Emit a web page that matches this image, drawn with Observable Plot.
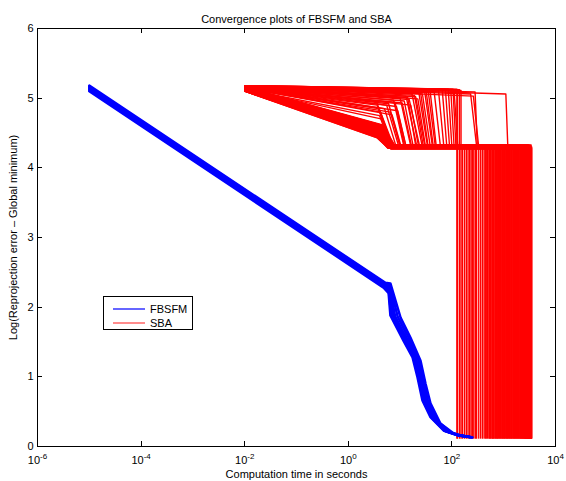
<!DOCTYPE html>
<html><head><meta charset="utf-8">
<script src="https://cdn.jsdelivr.net/npm/d3@7"></script>
<script src="https://cdn.jsdelivr.net/npm/@observablehq/plot@0.6"></script>
<style>body{margin:0;background:#fff}</style>
</head><body><div id="chart"></div><script>
// ---- data ----
const title = "Convergence plots of FBSFM and SBA";
const xLabel = "Computation time in seconds";
const yLabel = "Log(Reprojection error \u2013 Global minimum)";
const xTicks = [1e-6, 1e-4, 1e-2, 1, 1e2, 1e4];
const yTicks = [0, 1, 2, 3, 4, 5, 6];
const seriesNames = ["FBSFM", "SBA"];

// FBSFM: a bundle of runs (time s, value)
const fbsfmA = [[1e-5,5.18],[5.2,2.35],[6.5,2.34],[10.2,1.85],[15.9,1.56],[24.8,1.23],[31,0.90],[38.6,0.62],[60,0.33],[107,0.19],[160,0.15],[250,0.13]];
const fbsfmAB = [[1e-5,5.168],[5.15,2.34],[6.4,2.315],[9,1.86],[14.7,1.555],[22.6,1.245],[28.5,0.925],[35,0.63],[54,0.355],[96,0.20],[150,0.155],[240,0.13]];
const fbsfmB = [[1e-5,5.155],[5.1,2.33],[6.3,2.29],[8,1.87],[13.5,1.55],[20.5,1.26],[26,0.95],[32,0.64],[48,0.38],[85,0.21],[140,0.16],[230,0.135]];
const fbsfmBC = [[1e-5,5.142],[5.05,2.315],[6.2,2.27],[7.5,1.875],[13,1.54],[19.7,1.265],[25,0.96],[30.7,0.645],[45.5,0.39],[80,0.215],[137,0.16],[222,0.135]];
const fbsfmC = [[1e-5,5.13],[5.0,2.30],[6.1,2.25],[7,1.88],[12.5,1.53],[19,1.27],[24,0.97],[29.5,0.65],[43,0.40],[76,0.22],[134,0.16],[215,0.14]];
const fbsfmCD = [[1e-5,5.115],[4.9,2.29],[6.05,2.225],[6.75,1.88],[12,1.525],[18.2,1.275],[22.8,0.98],[28.2,0.655],[40.8,0.41],[72,0.225],[131,0.16],[207,0.14]];
const fbsfmD = [[1e-5,5.10],[4.8,2.28],[6.0,2.2],[6.5,1.88],[11.6,1.52],[17.4,1.28],[21.7,0.99],[27,0.66],[38.6,0.42],[69,0.23],[128,0.16],[200,0.14]];

// SBA: runs start at 0.01 s, bend at a knee, reach the ~4.3 plateau, then drop
const sbaStartT = 0.01;
const sbaFinalV = 0.12;
const sbaStartV = [5.10,5.11,5.12,5.13,5.14,5.10,5.12,5.15,5.11,5.13,5.14,5.16,5.12,5.10,5.13,5.15,5.11,5.14,5.12,5.16,5.13,5.11,5.15,5.12,5.14,5.10,
  5.15,5.14,5.13,5.13,5.15,5.14,5.16,5.15,5.16,5.15,5.16,5.16,5.17,5.16,5.17,5.16,5.17,5.17,
  5.17,5.17,5.18,5.17,5.18,5.17,5.18,5.17,5.17,5.16,5.17,5.18,5.18,5.17,5.17,5.16,
  5.11,5.13,5.12,5.14,5.10,5.15,5.12,5.13,5.11,5.14,5.12,5.16,5.13,5.11,5.15,5.12,5.14,5.10,5.13,5.15,5.11,5.12,5.14,5.13,5.16,
  5.14,5.15,5.16,5.14,5.15,5.16,5.15,5.16,5.17,5.16,5.17,5.16,5.17,5.17,5.16];
const sbaKneeT = [3.6,3.7,3.8,3.7,3.9,4.0,4.1,3.6,4.2,4.3,3.8,4.0,4.4,3.9,4.5,3.7,4.1,4.2,3.6,4.6,3.8,4.0,4.3,3.9,4.4,3.7,
  3.5,3.8,4.0,4.5,5.5,6.5,7.5,8.5,10,11,13,15,17,20,23,27,32,38,
  45,55,65,75,85,95,105,110,230,260,280,1100,125,128,140,150,
  3.7,3.9,4.1,3.6,4.3,3.8,4.0,4.5,3.7,4.2,3.9,4.4,3.6,4.0,4.1,3.8,4.3,3.7,4.6,3.9,4.2,3.6,4.0,4.4,3.8,
  3.6,4.2,5.0,6.0,7.0,8.0,9.0,12,14,16,19,22,25,30,35];
const sbaKneeV = [4.43,4.45,4.47,4.50,4.52,4.44,4.55,4.58,4.48,4.60,4.53,4.62,4.50,4.46,4.57,4.49,4.51,4.56,4.44,4.61,4.48,4.54,4.59,4.47,4.55,4.45,
  4.95,4.85,4.75,4.70,4.90,4.80,4.97,4.88,5.00,4.93,5.03,4.98,5.06,5.02,5.08,5.06,5.09,5.10,
  5.12,5.12,5.13,5.12,5.13,5.12,5.13,5.12,5.06,5.03,5.09,5.06,5.13,5.12,5.12,5.11,
  4.46,4.50,4.53,4.48,4.57,4.52,4.45,4.60,4.44,4.55,4.49,4.62,4.47,4.51,4.58,4.46,4.54,4.43,4.61,4.50,4.56,4.45,4.52,4.59,4.48,
  4.90,4.80,4.85,4.92,4.76,4.94,4.82,4.96,5.01,4.90,5.04,4.99,5.07,5.08,5.09];
const sbaPlateauT = [5.6,5.8,6.0,6.2,6.3,6.0,6.5,6.4,6.6,7.0,6.1,7.2,6.8,5.9,7.5,6.0,6.4,6.9,5.7,8.0,6.2,6.6,7.3,6.1,7.0,5.8,
  7.5,7.0,6.8,7.2,9.5,10,12,13,16,17,21,24,27,30,34,38,44,50,
  60,70,80,90,100,110,120,130,300,330,310,1200,125,128,140,150,
  5.9,6.2,6.6,5.8,7.0,6.3,6.0,7.6,5.7,6.8,6.1,7.4,5.9,6.4,7.1,6.0,6.9,5.7,7.8,6.2,6.7,5.8,6.3,7.2,6.1,
  7.2,7.0,8.5,10,10.5,12.5,13,18,20,23,28,31,35,42,48];
const sbaPlateauV = [4.30,4.29,4.31,4.28,4.32,4.30,4.29,4.33,4.27,4.31,4.30,4.32,4.28,4.29,4.30,4.31,4.33,4.29,4.30,4.32,4.28,4.31,4.30,4.29,4.32,4.30,
  4.31,4.30,4.29,4.32,4.30,4.31,4.29,4.30,4.32,4.28,4.31,4.30,4.29,4.31,4.30,4.32,4.29,4.30,
  4.31,4.30,4.29,4.31,4.30,4.32,4.29,4.30,4.31,4.29,4.30,4.31,4.30,4.30,4.30,4.30,
  4.29,4.31,4.30,4.32,4.28,4.30,4.33,4.29,4.31,4.27,4.30,4.32,4.29,4.31,4.30,4.28,4.33,4.30,4.29,4.31,4.32,4.28,4.30,4.31,4.29,
  4.30,4.31,4.29,4.32,4.30,4.28,4.31,4.30,4.32,4.29,4.31,4.30,4.29,4.31,4.30];
const sbaDropT = [3480,160,2500,330,3300,700,2900,1180,3140,450,2740,1880,3440,235,2300,980,3380,1590,3060,610,2100,3220,800,2660,1410,2820,
  175,2980,1040,250,1780,390,2200,530,1500,205,860,2400,300,1250,650,1680,420,920,
  190,1110,265,570,220,750,285,490,360,1330,1990,2580,125,128,140,150,
  3420,460,2450,730,3340,1070,2940,520,3260,1540,2700,890,3180,600,2250,1290,3100,830,2550,1830,3020,680,2860,1940,2780,
  560,640,770,950,1010,1140,1210,1370,1450,1630,1730,2050,2150,2350,2620];

// ---- build tables ----
const blueRows = [];
[fbsfmA, fbsfmAB, fbsfmB, fbsfmBC, fbsfmC, fbsfmCD, fbsfmD].forEach((run, i) => run.forEach(([t, v]) => blueRows.push({id: i, t, v})));
const redRows = [];
sbaKneeT.forEach((_, i) => {
  [[sbaStartT, sbaStartV[i]], [sbaKneeT[i], sbaKneeV[i]], [sbaPlateauT[i], sbaPlateauV[i]],
   [sbaDropT[i], sbaPlateauV[i]], [sbaDropT[i], sbaFinalV]].forEach(([t, v]) => redRows.push({id: i, t, v}));
});

const FONT = "'Liberation Sans', Arial, Helvetica, sans-serif";
const plot = Plot.plot({
  width: 566, height: 481,
  marginLeft: 37, marginRight: 11, marginTop: 28, marginBottom: 35,
  style: {fontFamily: FONT, fontSize: "11px", background: "white", color: "black"},
  x: {type: "log", domain: [1e-6, 1e4]},
  y: {domain: [0, 6]},
  marks: [
    Plot.line(redRows, {x: "t", y: "v", z: "id", stroke: "#ff0000", strokeWidth: 1.4}),
    Plot.line(blueRows, {x: "t", y: "v", z: "id", stroke: "#0000ff", strokeWidth: 2.5}),
    Plot.frame({stroke: "black", strokeWidth: 1}),
    Plot.axisX({ticks: xTicks, tickSize: 0, tickPadding: 10, tickFormat: d => "10^" + Math.round(Math.log10(d)),
      label: xLabel, labelAnchor: "center", labelArrow: "none", labelOffset: 31, fontSize: 11}),
    Plot.axisY({ticks: yTicks, tickSize: 0, tickPadding: 4, tickFormat: d => String(d),
      label: yLabel, labelAnchor: "center", labelArrow: "none", labelOffset: 28, fontSize: 11}),
    Plot.text([title], {frameAnchor: "top", dy: -13, fontSize: 11, fill: "black"})
  ]
});

const svg = d3.select(plot);
// strip any label arrows
svg.selectAll('g[aria-label$="label"] text').each(function() {
  const t = this.textContent;
  if (/[\u2191\u2192\u2190\u2193]/.test(t)) this.textContent = t.replace(/\s*[\u2191\u2192\u2190\u2193]\s*/g, "");
});
const xs = plot.scale("x"), ys = plot.scale("y");
const [x0, x1] = xs.range, [yB, yT] = ys.range;
const tk = 5;
const tg = svg.append("g").style("stroke", "black").style("stroke-width", 1);
xTicks.forEach(v => {
  const px = Math.round(xs.apply(v)) + 0.5;
  tg.append("line").attr("x1", px).attr("x2", px).attr("y1", yB).attr("y2", yB - tk);
  tg.append("line").attr("x1", px).attr("x2", px).attr("y1", yT).attr("y2", yT + tk);
});
yTicks.forEach(v => {
  const py = Math.round(ys.apply(v)) + 0.5;
  tg.append("line").attr("y1", py).attr("y2", py).attr("x1", x0).attr("x2", x0 + tk);
  tg.append("line").attr("y1", py).attr("y2", py).attr("x1", x1).attr("x2", x1 - tk);
});

// superscript exponents on x tick labels
svg.selectAll('g[aria-label="x-axis tick label"] text').each(function() {
  const s = this.textContent.split("^");
  if (s.length !== 2) return;
  const el = d3.select(this);
  el.text(s[0]);
  el.append("tspan").attr("dy", -5).attr("font-size", 8).text(s[1]);
});

// legend
const legendColors = ["#0000ff", "#ff4040"];
const lg = svg.append("g").style("font-family", FONT).style("font-size", "11px").style("text-anchor", "start");
lg.append("rect").attr("x", 103.5).attr("y", 296.5).attr("width", 89).attr("height", 33)
  .style("fill", "white").style("stroke", "black").style("stroke-width", 1);
seriesNames.forEach((name, i) => {
  const yy = 309 + i * 14;
  lg.append("path").attr("d", `M113,${yy}H145`)
    .style("fill", "none").style("stroke", legendColors[i]).style("stroke-width", 1.2);
  lg.append("text").attr("x", 150).attr("y", yy).attr("dy", "0.35em").style("fill", "black").text(name);
});

document.getElementById("chart").appendChild(plot);
</script></body></html>
